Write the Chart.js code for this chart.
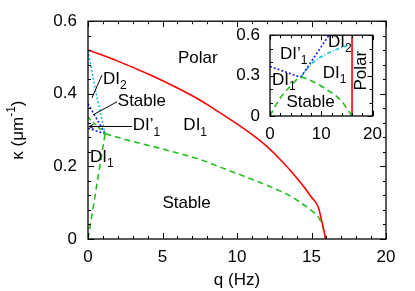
<!DOCTYPE html>
<html>
<head>
<meta charset="utf-8">
<script src="https://cdn.jsdelivr.net/npm/chart.js@4/dist/chart.umd.min.js"></script>
<style>
  html, body { margin: 0; padding: 0; background: #fff; }
  #wrap { position: relative; width: 415px; height: 291px; }
  #main { position: absolute; left: 0; top: 0; }
  #inset { position: absolute; left: 225px; top: 15px; }
</style>
</head>
<body>
<div id="wrap">
  <canvas id="main" width="415" height="291"></canvas>
  <canvas id="inset" width="165" height="135"></canvas>
</div>
<script>
/* ---- main panel data (q in Hz, kappa in 1/um) ---- */
const polarQ  = [0, 2, 4, 6, 7.5, 8.4, 10, 11, 12, 13, 14, 14.5, 15, 15.46, 15.95];
const polarK  = [0.521, 0.49, 0.455, 0.416, 0.383, 0.36, 0.317, 0.288, 0.255, 0.215, 0.169, 0.143, 0.115, 0.087, 0];

const stableQ = [1.15, 2.8, 5, 7.5, 9.75, 12, 13.5, 14.2, 15, 15.45, 15.75, 15.95];
const stableK = [0.29, 0.271, 0.248, 0.219, 0.184, 0.148, 0.12, 0.102, 0.078, 0.061, 0.035, 0];

const riseQ   = [0, 0.4, 0.75, 1.15];
const riseK   = [0, 0.1, 0.19, 0.29];
const shortQ  = [0, 1.15];
const shortK  = [0.335, 0.29];

const cyanQ   = [0, 0.5, 1.15];
const cyanK   = [0.52, 0.41, 0.29];
const blueUpQ = [0, 1.15];
const blueUpK = [0.373, 0.29];
const blueLoQ = [0, 1.15];
const blueLoK = [0.305, 0.29];

const mainXTicks = [0, 5, 10, 15, 20];
const mainYTicks = [0, 0.2, 0.4, 0.6];

/* ---- inset data ---- */
const inPolarQ  = [16, 16];
const inPolarK  = [0, 0.6];
const inStableQ = [0, 1.6, 3.9, 6, 8, 10.7, 13.9, 16];
const inStableK = [0, 0.112, 0.217, 0.287, 0.262, 0.205, 0.112, 0];
const inBlueAQ  = [0, 6];
const inBlueAK  = [0.368, 0.287];
const inBlueBQ  = [6, 11.5];
const inBlueBK  = [0.287, 0.6];
const inCyanQ   = [6, 7, 8.5, 10.5, 13, 15.6];
const inCyanK   = [0.287, 0.34, 0.4, 0.45, 0.495, 0.53];

const inXTicks = [0, 10, 20];
const inYTicks = [0, 0.3, 0.6];

const FONT = "'Liberation Sans', Arial, 'DejaVu Sans', sans-serif";
const RED = '#ff0000', GREEN = '#20c020', BLUE = '#1a1aff', CYAN = '#10c4d0';

const pts = (qs, ks) => qs.map((q, i) => ({ x: q, y: ks[i] }));

function line(qs, ks, color, dash, smooth) {
  return {
    data: pts(qs, ks),
    showLine: true,
    borderColor: color,
    borderWidth: 1.6,
    borderDash: dash || [],
    pointRadius: 0,
    fill: false,
    cubicInterpolationMode: smooth ? 'monotone' : 'default',
    tension: smooth ? 0.4 : 0
  };
}

// text with subscripts: parts = [[text, sub?], ...]
function richText(ctx, x, y, parts, size) {
  const sub = Math.round(size * 0.72);
  let cx = x;
  ctx.textBaseline = 'middle';
  ctx.textAlign = 'left';
  parts.forEach(([t, s]) => {
    ctx.font = (s ? sub : size) + 'px ' + FONT;
    ctx.fillText(t, cx, s ? y + size * 0.38 : y);
    cx += ctx.measureText(t).width;
  });
}

// frame with inward ticks on all four sides + labels
function framePlugin(cfg) {
  return {
    id: 'frame',
    afterDraw(chart) {
      const { ctx, chartArea: a, scales: { x, y } } = chart;
      ctx.save();
      ctx.strokeStyle = '#000';
      ctx.lineWidth = 1;
      const seg = (x1, y1, x2, y2) => { ctx.beginPath(); ctx.moveTo(x1, y1); ctx.lineTo(x2, y2); ctx.stroke(); };
      const isMajor = (v, step) => Math.abs(v / step - Math.round(v / step)) < 1e-6;

      for (let i = 0; x.min + i * cfg.minorX <= x.max + 1e-9; i++) {
        const v = x.min + i * cfg.minorX;
        const len = isMajor(v, cfg.majorX) ? cfg.major : cfg.minor;
        const px = Math.round(x.getPixelForValue(v)) + 0.5;
        seg(px, a.bottom, px, a.bottom - len);
        seg(px, a.top, px, a.top + len);
      }
      for (let i = 0; y.min + i * cfg.minorY <= y.max + 1e-9; i++) {
        const v = y.min + i * cfg.minorY;
        const len = isMajor(v, cfg.majorY) ? cfg.major : cfg.minor;
        const py = Math.round(y.getPixelForValue(v)) + 0.5;
        seg(a.left, py, a.left + len, py);
        seg(a.right, py, a.right - len, py);
      }
      ctx.lineWidth = 1.3;
      ctx.strokeRect(a.left, a.top, a.right - a.left, a.bottom - a.top);

      // leader lines
      ctx.lineWidth = 1;
      (cfg.leaders || []).forEach(l => {
        const x1 = x.getPixelForValue(l.from[0]), y1 = y.getPixelForValue(l.from[1]);
        const x2 = x.getPixelForValue(l.to[0]), y2 = y.getPixelForValue(l.to[1]);
        seg(x1, y1, x2, y2);
        if (l.arrow) {
          const ang = Math.atan2(y2 - y1, x2 - x1);
          ctx.beginPath();
          ctx.moveTo(x2, y2);
          ctx.lineTo(x2 - 5 * Math.cos(ang - 0.45), y2 - 5 * Math.sin(ang - 0.45));
          ctx.moveTo(x2, y2);
          ctx.lineTo(x2 - 5 * Math.cos(ang + 0.45), y2 - 5 * Math.sin(ang + 0.45));
          ctx.stroke();
        }
      });

      // region labels
      ctx.fillStyle = '#000';
      (cfg.labels || []).forEach(l => {
        const px = x.getPixelForValue(l.q), py = y.getPixelForValue(l.k);
        if (l.rotate) {
          ctx.save();
          ctx.translate(px, py);
          ctx.rotate(-Math.PI / 2);
          ctx.font = cfg.size + 'px ' + FONT;
          ctx.textAlign = 'center';
          ctx.textBaseline = 'middle';
          ctx.fillText(l.parts[0][0], 0, 0);
          ctx.restore();
        } else {
          richText(ctx, px, py, l.parts, cfg.size);
        }
      });

      // y-axis title with superscript
      if (cfg.yTitle) {
        ctx.save();
        ctx.translate(cfg.yTitle.x, (a.top + a.bottom) / 2);
        ctx.rotate(-Math.PI / 2);
        const big = cfg.size + 'px ' + FONT, small = Math.round(cfg.size * 0.7) + 'px ' + FONT;
        ctx.font = big;
        const w1 = ctx.measureText('\u03ba (\u03bcm').width;
        const w3 = ctx.measureText(')').width;
        ctx.font = small;
        const w2 = ctx.measureText('-1').width;
        let cx = -(w1 + w2 + w3) / 2;
        ctx.textAlign = 'left';
        ctx.textBaseline = 'middle';
        ctx.font = big;
        ctx.fillText('\u03ba (\u03bcm', cx, 0); cx += w1;
        ctx.font = small;
        ctx.fillText('-1', cx, -cfg.size * 0.38); cx += w2;
        ctx.font = big;
        ctx.fillText(')', cx, 0);
        ctx.restore();
      }
      ctx.restore();
    }
  };
}

function scalesFor(o) {
  return {
    x: {
      type: 'linear', min: o.xMin, max: o.xMax,
      grid: { display: false, drawTicks: false },
      border: { display: false },
      afterBuildTicks: s => { s.ticks = o.xTicks.map(v => ({ value: v })); },
      ticks: { color: '#000', padding: o.xPad, maxRotation: 0, font: { family: FONT, size: 17 },
               callback: v => String(v) },
      title: o.xTitle ? { display: true, text: o.xTitle, color: '#000', padding: { top: 0, bottom: 0 },
                          font: { family: FONT, size: 17 } } : { display: false },
      afterFit: s => { s.height = o.xHeight; }
    },
    y: {
      type: 'linear', min: o.yMin, max: o.yMax,
      grid: { display: false, drawTicks: false },
      border: { display: false },
      afterBuildTicks: s => { s.ticks = o.yTicks.map(v => ({ value: v })); },
      ticks: { color: '#000', padding: o.yPad, font: { family: FONT, size: 17 },
               callback: v => String(v) },
      afterFit: s => { s.width = o.yWidth; }
    }
  };
}

/* ---- main chart ---- */
new Chart(document.getElementById('main'), {
  type: 'scatter',
  data: {
    datasets: [
      line(polarQ, polarK, RED, [], true),
      line(stableQ, stableK, GREEN, [6, 4], true),
      line(riseQ, riseK, GREEN, [6, 4]),
      line(shortQ, shortK, GREEN, [4, 3]),
      line(cyanQ, cyanK, CYAN, [2, 2]),
      line(blueUpQ, blueUpK, BLUE, [2, 2]),
      line(blueLoQ, blueLoK, BLUE, [2, 2])
    ]
  },
  options: {
    responsive: false,
    animation: false,
    layout: { padding: { left: 0, top: 20, right: 29, bottom: 0 } },
    plugins: { legend: { display: false }, tooltip: { enabled: false } },
    scales: scalesFor({ xMin: 0, xMax: 20, yMin: 0, yMax: 0.6, xTicks: mainXTicks, yTicks: mainYTicks,
                        xPad: 8, yPad: 11, xHeight: 52, yWidth: 88, xTitle: 'q (Hz)' })
  },
  plugins: [framePlugin({
    majorX: 5, minorX: 1, majorY: 0.2, minorY: 0.04, major: 6, minor: 3, size: 17,
    yTitle: { x: 18 },
    leaders: [
      { from: [0.94, 0.452], to: [0.27, 0.389] },
      { from: [1.95, 0.378], to: [0.34, 0.342] },
      { from: [2.95, 0.310], to: [0.07, 0.310], arrow: true }
    ],
    labels: [
      { q: 6.04, k: 0.499, parts: [['Polar']] },
      { q: 1.0, k: 0.441, parts: [['DI'], ['2', 1]] },
      { q: 2.0, k: 0.378, parts: [['Stable']] },
      { q: 3.0, k: 0.312, parts: [['DI\u2019'], ['1', 1]] },
      { q: 0.13, k: 0.225, parts: [['DI'], ['1', 1]] },
      { q: 6.4, k: 0.312, parts: [['DI'], ['1', 1]] },
      { q: 5.0, k: 0.099, parts: [['Stable']] }
    ]
  })]
});

/* ---- inset chart ---- */
new Chart(document.getElementById('inset'), {
  type: 'scatter',
  data: {
    datasets: [
      line(inPolarQ, inPolarK, RED, []),
      line(inStableQ, inStableK, GREEN, [6, 4], true),
      line(inBlueAQ, inBlueAK, BLUE, [2, 2]),
      line(inBlueBQ, inBlueBK, BLUE, [2, 2]),
      line(inCyanQ, inCyanK, CYAN, [4, 2, 1, 2], true)
    ]
  },
  options: {
    responsive: false,
    animation: false,
    layout: { padding: { left: 0, top: 15, right: 17, bottom: 0 } },
    plugins: { legend: { display: false }, tooltip: { enabled: false } },
    scales: scalesFor({ xMin: 0, xMax: 20, yMin: 0, yMax: 0.6, xTicks: inXTicks, yTicks: inYTicks,
                        xPad: 8, yPad: 10, xHeight: 34, yWidth: 45 })
  },
  plugins: [framePlugin({
    majorX: 10, minorX: 2, majorY: 0.3, minorY: 0.1, major: 5, minor: 3, size: 17,
    labels: [
      { q: 1.94, k: 0.46, parts: [['DI\u2019'], ['1', 1]] },
      { q: 11.3, k: 0.545, parts: [['DI'], ['2', 1]] },
      { q: 10.3, k: 0.32, parts: [['DI'], ['1', 1]] },
      { q: 0.4, k: 0.266, parts: [['DI'], ['1', 1]] },
      { q: 3.2, k: 0.105, parts: [['Stable']] },
      { q: 17.9, k: 0.336, parts: [['Polar']], rotate: true }
    ]
  })]
});
</script>
</body>
</html>
